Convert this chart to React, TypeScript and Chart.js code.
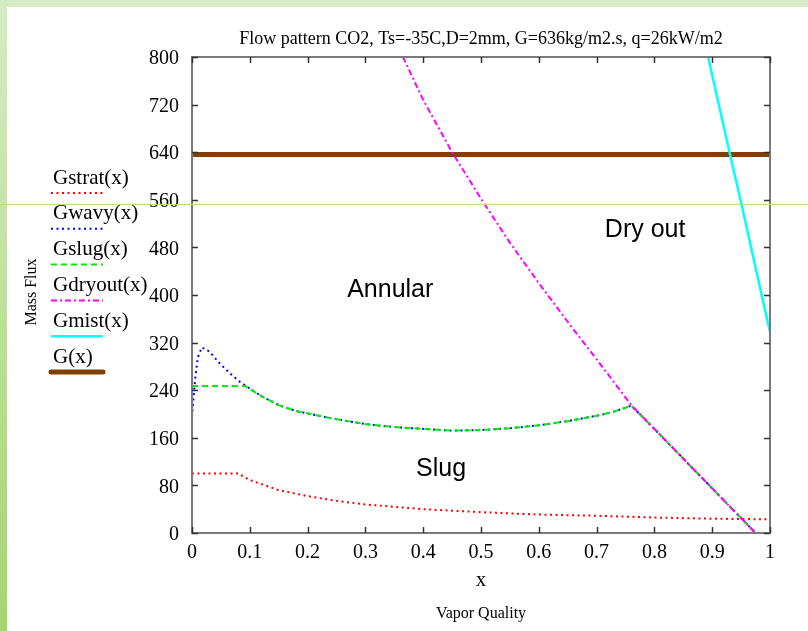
import React, { useEffect, useRef } from "react";
import { Chart, registerables } from "chart.js";

Chart.register(...registerables);

// ---- Data ----
const stratX = [0, 0.08, 0.1, 0.15, 0.2, 0.25, 0.3, 0.35, 0.4, 0.5, 0.6, 0.7, 0.8, 0.9, 1.0];
const stratY = [100, 100, 89, 72, 62, 54, 48, 44, 40, 35, 31, 29, 26, 24, 23];

const wavyX = [0, 0.005, 0.01, 0.017, 0.03, 0.048, 0.066, 0.083, 0.092, 0.12, 0.15, 0.18, 0.24, 0.3, 0.35, 0.4, 0.45, 0.5, 0.55, 0.6, 0.65, 0.7, 0.73, 0.76, 0.8, 0.85, 0.9, 0.95, 0.975];
const wavyY = [195, 255, 295, 312, 305, 285, 268, 254, 248, 230, 215, 205, 193, 183, 178, 175, 172, 173, 176, 181, 188, 197, 204, 214, 175, 125, 75, 25, 0];

const slugX = [0, 0.085, 0.092, 0.12, 0.15, 0.18, 0.24, 0.3, 0.35, 0.4, 0.45, 0.5, 0.55, 0.6, 0.65, 0.7, 0.73, 0.76, 0.8, 0.85, 0.9, 0.95, 0.975];
const slugY = [247, 247, 247, 230, 215, 205, 193, 183, 178, 175, 172, 173, 176, 181, 188, 197, 204, 214, 175, 125, 75, 25, 0];

const dryoutX = [0.365, 0.4, 0.45, 0.5, 0.55, 0.6, 0.65, 0.7, 0.76, 0.8, 0.85, 0.9, 0.95, 0.975];
const dryoutY = [800, 728, 640, 562, 488, 420, 355, 292, 215, 175, 125, 75, 25, 0];

const mistX = [0.893, 0.93, 0.95, 0.97, 1.0];
const mistY = [800, 640, 556, 468, 338];

const gX = [0, 1];
const gY = [636, 636];

const seriesLabels = ["Gstrat(x)", "Gwavy(x)", "Gslug(x)", "Gdryout(x)", "Gmist(x)", "G(x)"];
const xTickLabels = ["0", "0.1", "0.2", "0.3", "0.4", "0.5", "0.6", "0.7", "0.8", "0.9", "1"];
const yTickLabels = ["0", "80", "160", "240", "320", "400", "480", "560", "640", "720", "800"];

const titleText = "Flow pattern CO2, Ts=-35C,D=2mm, G=636kg/m2.s, q=26kW/m2";
const xAxisText = "x";
const xAxisSubText = "Vapor Quality";
const yAxisText = "Mass Flux";
const regionLabels = ["Annular", "Dry out", "Slug"];
const regionX = [0.343, 0.784, 0.431];
const regionY = [408, 509, 108];

const SERIF = "'Liberation Serif', 'Times New Roman', serif";
const SANS = "'Liberation Sans', Arial, sans-serif";

function pts(xs: number[], ys: number[]) {
  return xs.map((x, i) => ({ x, y: ys[i] }));
}

const bgPlugin = {
  id: "bgPlugin",
  beforeDraw(chart: any) {
    const { ctx, width, height } = chart;
    ctx.save();
    ctx.fillStyle = "#ffffff";
    ctx.fillRect(0, 0, width, height);
    ctx.fillStyle = "#d7ebc4";
    ctx.fillRect(0, 0, width, 7);
    const g = ctx.createLinearGradient(0, 0, 0, height);
    g.addColorStop(0, "#d7ebc4");
    g.addColorStop(1, "#a4d56e");
    ctx.fillStyle = g;
    ctx.fillRect(0, 0, 7, height);
    ctx.restore();
  },
};

const framePlugin = {
  id: "framePlugin",
  afterDatasetsDraw(chart: any) {
    const { ctx, chartArea } = chart;
    const { left, right, top, bottom } = chartArea;
    ctx.save();
    ctx.strokeStyle = "#7a7a7a";
    ctx.lineWidth = 2;
    ctx.strokeRect(left, top, right - left, bottom - top);
    ctx.strokeStyle = "#333333";
    ctx.lineWidth = 1.5;
    const xs = chart.scales.x;
    const ys = chart.scales.y;
    ctx.beginPath();
    xs.ticks.forEach((t: any) => {
      const px = Math.round(xs.getPixelForValue(t.value)) + 0.5;
      ctx.moveTo(px, bottom);
      ctx.lineTo(px, bottom - 6);
      ctx.moveTo(px, top);
      ctx.lineTo(px, top + 6);
    });
    ys.ticks.forEach((t: any) => {
      const py = Math.round(ys.getPixelForValue(t.value)) + 0.5;
      ctx.moveTo(left, py);
      ctx.lineTo(left + 6, py);
      ctx.moveTo(right, py);
      ctx.lineTo(right - 6, py);
    });
    ctx.stroke();
    ctx.restore();
  },
  afterDraw(chart: any) {
    const { ctx, chartArea, width } = chart;
    const { left, right, top, bottom } = chartArea;
    const cx = (left + right) / 2;
    ctx.save();
    ctx.fillStyle = "#000";
    ctx.textAlign = "center";
    ctx.textBaseline = "middle";
    ctx.font = `18px ${SERIF}`;
    ctx.fillText(titleText, cx, top - 18);
    ctx.font = `20px ${SERIF}`;
    ctx.fillText(xAxisText, cx, bottom + 48);
    ctx.font = `16px ${SERIF}`;
    ctx.fillText(xAxisSubText, cx, bottom + 81);
    ctx.save();
    ctx.translate(32, (top + bottom) / 2 - 3);
    ctx.rotate(-Math.PI / 2);
    ctx.fillText(yAxisText, 0, 0);
    ctx.restore();

    // region labels
    ctx.font = `25px ${SANS}`;
    const xs = chart.scales.x;
    const ys = chart.scales.y;
    regionLabels.forEach((t, i) => {
      ctx.fillText(t, xs.getPixelForValue(regionX[i]), ys.getPixelForValue(regionY[i]));
    });

    // legend
    ctx.textAlign = "left";
    ctx.font = `21px ${SERIF}`;
    chart.data.datasets.forEach((ds: any, i: number) => {
      const ty = 178 + i * 35.8;
      const ly = 193 + i * 35.8;
      ctx.fillStyle = "#000";
      ctx.fillText(ds.label, 53, ty);
      ctx.save();
      ctx.strokeStyle = ds.borderColor;
      ctx.lineWidth = ds.borderWidth;
      ctx.setLineDash(ds.borderDash || []);
      ctx.lineCap = ds.borderWidth > 3 ? "round" : "butt";
      ctx.beginPath();
      ctx.moveTo(51, ly);
      ctx.lineTo(103, ly);
      ctx.stroke();
      ctx.restore();
    });

    // thin horizontal guide line across the page
    ctx.strokeStyle = "#b7dc95";
    ctx.lineWidth = 1;
    ctx.beginPath();
    ctx.moveTo(0, 204.5);
    ctx.lineTo(width, 204.5);
    ctx.stroke();
    ctx.restore();
  },
};

export default function App() {
  const ref = useRef<HTMLCanvasElement | null>(null);
  useEffect(() => {
    document.body.style.margin = "0";
    const canvas = ref.current;
    if (!canvas) return;
    const chart = new Chart(canvas, {
      type: "line",
      data: {
        datasets: [
          { label: seriesLabels[0], data: pts(stratX, stratY), borderColor: "#ff0000", borderWidth: 2, borderDash: [2, 3.5], order: 5 },
          { label: seriesLabels[1], data: pts(wavyX, wavyY), borderColor: "#0000ff", borderWidth: 2, borderDash: [2, 3.5], order: 4 },
          { label: seriesLabels[2], data: pts(slugX, slugY), borderColor: "#00ee00", borderWidth: 2, borderDash: [6, 4], order: 3 },
          { label: seriesLabels[3], data: pts(dryoutX, dryoutY), borderColor: "#ff00ff", borderWidth: 2, borderDash: [6, 3, 2, 3], order: 2 },
          { label: seriesLabels[4], data: pts(mistX, mistY), borderColor: "#00ffff", borderWidth: 2.5, borderDash: [], order: 1 },
          { label: seriesLabels[5], data: pts(gX, gY), borderColor: "#804000", borderWidth: 5, borderDash: [], order: 10 },
        ] as any,
      },
      options: {
        responsive: false,
        animation: false,
        devicePixelRatio: 1,
        parsing: false as any,
        layout: { padding: { left: 0, top: 57, right: 38, bottom: 0 } },
        elements: { point: { radius: 0 }, line: { tension: 0, fill: false } },
        plugins: { legend: { display: false }, tooltip: { enabled: false }, title: { display: false } },
        scales: {
          x: {
            type: "linear",
            min: 0,
            max: 1,
            grid: { display: false },
            border: { display: false },
            ticks: {
              stepSize: 0.1,
              color: "#000",
              padding: 0,
              maxRotation: 0,
              autoSkip: false,
              font: { family: SERIF, size: 20 },
              callback: (_v: any, i: number) => xTickLabels[i],
            },
            afterFit: (s: any) => { s.height = 98; },
          },
          y: {
            type: "linear",
            min: 0,
            max: 800,
            grid: { display: false },
            border: { display: false },
            ticks: {
              stepSize: 80,
              color: "#000",
              padding: 5,
              labelOffset: 2,
              autoSkip: false,
              font: { family: SERIF, size: 20 },
              callback: (_v: any, i: number) => yTickLabels[i],
            },
            afterFit: (s: any) => { s.width = 192; },
          },
        },
      } as any,
      plugins: [bgPlugin, framePlugin],
    });
    return () => chart.destroy();
  }, []);
  return (
    <canvas
      ref={ref}
      width={808}
      height={631}
      style={{ display: "block", position: "fixed", left: 0, top: 0, width: 808, height: 631 }}
    />
  );
}
